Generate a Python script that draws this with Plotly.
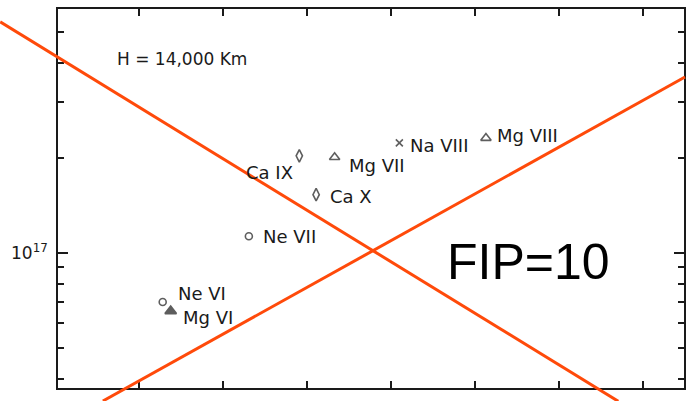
import math
import plotly.graph_objects as go

# ---- data ----
ions = ["Ca IX", "Mg VII", "Ca X", "Ne VII", "Na VIII", "Mg VIII", "Ne VI", "Mg VI"]
x_vals = [2.91, 3.33, 3.11, 2.31, 4.10, 5.13, 1.285, 1.38]
y_vals = [2.03e17, 2.01e17, 1.53e17, 1.13e17, 2.23e17, 2.31e17, 7.0e16, 6.55e16]
x_ticks = [1, 2, 3, 4, 5, 6, 7]
y_major = [1e17]
y_minor = [4e16, 5e16, 6e16, 7e16, 8e16, 9e16, 2e17, 3e17, 4e17, 5e17]
height_label = "H = 14,000 Km"
fip_label = "FIP=10"

# ---- styles ----
symbols = ["diamond-tall-open", "triangle-up-open", "diamond-tall-open", "circle-open",
           "x-thin-open", "triangle-up-open", "circle-open", "triangle-up"]
sizes = [9, 9, 9, 7, 7, 9, 7, 10]
label_offsets = {  # (xshift, yshift, xanchor)
    "Ca IX": (-4, -17, "right"),
    "Mg VII": (12, -8, "left"),
    "Ca X": (12, -2, "left"),
    "Ne VII": (12, 0, "left"),
    "Na VIII": (9, -3, "left"),
    "Mg VIII": (9, 3, "left"),
    "Ne VI": (13, 8, "left"),
    "Mg VI": (10, -6, "left"),
}
ink = "#1a1a1a"
label_font = dict(family="DejaVu Sans, Arial", size=18, color=ink)

fig = go.Figure()
fig.add_trace(go.Scatter(
    x=x_vals, y=y_vals, mode="markers",
    marker=dict(symbol=symbols, size=sizes, color=ink, line=dict(color=ink, width=1.6)),
    showlegend=False, hoverinfo="skip",
))

annotations = []
for name, xv, yv in zip(ions, x_vals, y_vals):
    xs, ys, xa = label_offsets[name]
    annotations.append(dict(
        x=xv, y=math.log10(yv), xref="x", yref="y", text=name, showarrow=False,
        xanchor=xa, yanchor="middle", xshift=xs, yshift=ys, font=label_font,
    ))

annotations.append(dict(x=0.1975, y=0.868, xref="paper", yref="paper", text=height_label,
                        showarrow=False, xanchor="center", yanchor="middle",
                        font=dict(family="DejaVu Sans, Arial", size=17, color=ink)))
annotations.append(dict(x=0.752, y=0.332, xref="paper", yref="paper", text=fip_label,
                        showarrow=False, xanchor="center", yanchor="middle",
                        font=dict(family="Liberation Sans, Arial", size=50, color="black")))
annotations.append(dict(x=-0.012, y=17, xref="paper", yref="y", text="10<sup>17</sup>",
                        showarrow=False, xanchor="right", yanchor="middle", yshift=1,
                        font=dict(family="DejaVu Sans, Arial", size=17, color=ink)))

line_color = "#FF4A0A"
shapes = [
    dict(type="line", xref="paper", yref="paper", x0=-0.0924, y0=0.966, x1=0.895, y1=-0.035,
         line=dict(color=line_color, width=3)),
    dict(type="line", xref="paper", yref="paper", x0=0.0717, y0=-0.0343, x1=1.0016, y1=0.8206,
         line=dict(color=line_color, width=3)),
]

fig.update_layout(
    width=687, height=401,
    margin=dict(l=58, r=1, t=9, b=13),
    paper_bgcolor="white", plot_bgcolor="white",
    annotations=annotations, shapes=shapes,
    xaxis=dict(range=[0.0395, 7.486], tickmode="array", tickvals=x_ticks, showticklabels=False,
               ticks="inside", ticklen=7, tickwidth=2, tickcolor=ink,
               showline=True, linewidth=2, linecolor=ink, mirror="allticks",
               showgrid=False, zeroline=False),
    yaxis=dict(type="log", range=[16.573, 17.772], tickmode="array", tickvals=y_major,
               showticklabels=False, ticks="inside", ticklen=10, tickwidth=2, tickcolor=ink,
               minor=dict(tickmode="array", tickvals=y_minor, ticks="inside", ticklen=6,
                          tickwidth=2, tickcolor=ink, showgrid=False),
               showline=True, linewidth=2, linecolor=ink, mirror="allticks",
               showgrid=False, zeroline=False),
)

fig.write_html("out.html")
